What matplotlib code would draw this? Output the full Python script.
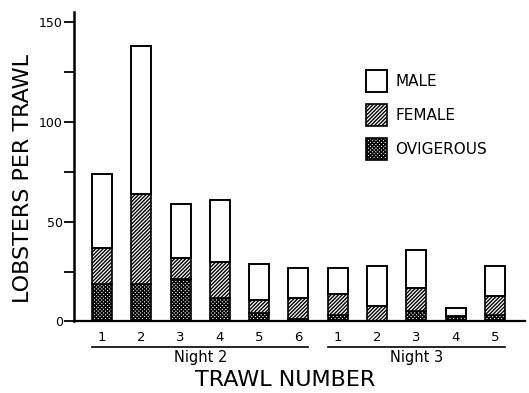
import matplotlib
matplotlib.use("Agg")
import matplotlib.pyplot as plt
import numpy as np
from matplotlib.patches import Patch
import matplotlib.transforms as mtransforms

# Data
trawl_labels = ["1", "2", "3", "4", "5", "6", "1", "2", "3", "4", "5"]
nights = ["Night 2", "Night 3"]
night_sizes = [6, 5]
ovigerous = [19, 19, 21.5, 12, 4, 1, 3, 0, 5, 2.5, 3]
female = [18, 45, 10.5, 18, 7, 11, 11, 8, 12, 0, 10]
male = [37, 74, 27, 31, 18, 15, 13, 20, 19, 4, 15]
series_names = ["MALE", "FEMALE", "OVIGEROUS"]

plt.rcParams["hatch.linewidth"] = 1.0

fig = plt.figure(figsize=(5.29, 3.93), dpi=100)
ax = fig.add_axes([0.140, 0.182, 0.852, 0.7875])

x = np.arange(len(trawl_labels))
w = 0.51
ov = np.array(ovigerous, float)
fe = np.array(female, float)
ma = np.array(male, float)

OV_HATCH = "xxxxxxxxx"
FE_HATCH = "/////////"

ax.bar(x, ov, w, color="white", edgecolor="black", hatch=OV_HATCH, linewidth=1.2)
ax.bar(x, fe, w, bottom=ov, color="white", edgecolor="black", hatch=FE_HATCH, linewidth=1.2)
ax.bar(x, ma, w, bottom=ov + fe, color="white", edgecolor="black", linewidth=1.4)

ax.set_xlim(-0.71, 10.76)
ax.set_ylim(0, 155)
ax.set_yticks([0, 50, 100, 150])
ax.set_yticks([25, 75, 125], minor=True)
ax.tick_params(axis="y", which="both", direction="out", length=7, width=1.3, labelsize=9, pad=1)
ax.set_xticks(x, trawl_labels)
ax.tick_params(axis="x", length=0, labelsize=9.5, pad=7)
for s in ["top", "right"]:
    ax.spines[s].set_visible(False)
ax.spines["left"].set_linewidth(1.8)
ax.spines["bottom"].set_linewidth(1.6)

# group lines and labels
trans = mtransforms.blended_transform_factory(ax.transData, ax.transAxes)
start = 0
for name, n in zip(nights, night_sizes):
    x0 = start - w / 2
    x1 = start + n - 1 + w / 2
    ax.plot([x0, x1], [-0.081, -0.081], color="black", lw=1.2, transform=trans, clip_on=False)
    ax.text((x0 + x1) / 2, -0.118, name, transform=trans, ha="center", va="center", fontsize=10.5)
    start += n

fig.text(0.539, 0.033, "TRAWL NUMBER", ha="center", va="center", fontsize=16)
fig.text(0.044, 0.545, "LOBSTERS PER TRAWL", ha="center", va="center", rotation=90, fontsize=16)

handles = [
    Patch(facecolor="white", edgecolor="black", linewidth=1.4),
    Patch(facecolor="white", edgecolor="black", hatch=FE_HATCH, linewidth=1.2),
    Patch(facecolor="white", edgecolor="black", hatch=OV_HATCH, linewidth=1.2),
]
ax.legend(handles, series_names, loc="upper left", bbox_to_anchor=(0.692, 0.822),
          bbox_transform=fig.transFigure, frameon=False, borderpad=0, borderaxespad=0,
          handlelength=1.37, handleheight=1.84, labelspacing=0.78, handletextpad=0.55,
          fontsize=11)

fig.savefig("out.png", dpi=100)
